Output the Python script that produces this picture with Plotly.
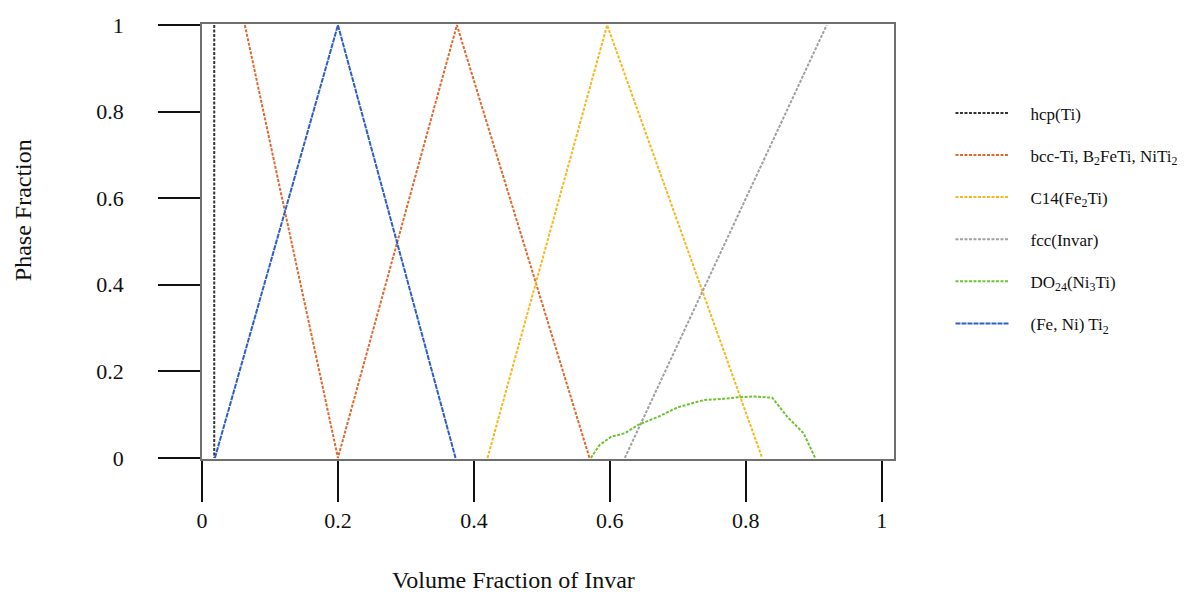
import plotly.graph_objects as go

# ---- data ----
hcp_x = [0.018, 0.018]
hcp_y = [1.0, 0.0]

bcc_x = [0.063, 0.200, 0.375, 0.570]
bcc_y = [1.0, 0.0, 1.0, 0.0]

c14_x = [0.420, 0.596, 0.824]
c14_y = [0.0, 1.0, 0.0]

fcc_x = [0.622, 0.919]
fcc_y = [0.0, 1.0]

do24_x = [0.572, 0.585, 0.602, 0.622, 0.641, 0.671, 0.700, 0.739, 0.763, 0.788,
          0.812, 0.839, 0.861, 0.885, 0.902]
do24_y = [0.000, 0.030, 0.049, 0.057, 0.076, 0.095, 0.117, 0.134, 0.136, 0.140,
          0.142, 0.139, 0.095, 0.057, 0.000]

feni_x = [0.019, 0.200, 0.373]
feni_y = [0.0, 1.0, 0.0]

x_ticks = [0, 0.2, 0.4, 0.6, 0.8, 1]
x_ticktext = ["0", "0.2", "0.4", "0.6", "0.8", "1"]
y_ticks = [0, 0.2, 0.4, 0.6, 0.8, 1]
y_ticktext = ["0", "0.2", "0.4", "0.6", "0.8", "1"]

x_title = "Volume Fraction of Invar"
y_title = "Phase Fraction"

series = [
    ("hcp(Ti)", hcp_x, hcp_y, "#333333", "3px,1.5px"),
    ("bcc-Ti, B<sub>2</sub>FeTi, NiTi<sub>2</sub>", bcc_x, bcc_y, "#E0682F", "3px,1.5px"),
    ("C14(Fe<sub>2</sub>Ti)", c14_x, c14_y, "#F7B81E", "3px,1.5px"),
    ("fcc(Invar)", fcc_x, fcc_y, "#A0A0A0", "3px,1.5px"),
    ("DO<sub>24</sub>(Ni<sub>3</sub>Ti)", do24_x, do24_y, "#6FC232", "3px,1.5px"),
    ("(Fe, Ni) Ti<sub>2</sub>", feni_x, feni_y, "#2F5FC4", "5px,1px"),
]

FONT = "Liberation Serif"
NB = "\u00a0" * 4

fig = go.Figure()
for i, (name, xs, ys, col, dash) in enumerate(series):
    fig.add_trace(go.Scatter(
        x=xs, y=ys, mode="lines", name=NB + name, legendgroup=f"g{i}",
        line=dict(color=col, width=2, dash=dash),
    ))

fig.update_layout(
    width=1194, height=594,
    margin=dict(l=194, r=308, t=16, b=143),
    paper_bgcolor="white", plot_bgcolor="white",
    font=dict(family=FONT, color="#111111"),
    showlegend=True,
    legend=dict(
        x=1.0816, y=0.836, xanchor="left", yanchor="top",
        font=dict(family=FONT, size=17, color="#111111"),
        itemwidth=53, tracegroupgap=17,
        bgcolor="rgba(0,0,0,0)",
    ),
    xaxis=dict(
        range=[0, 1.018], showgrid=False, zeroline=False, automargin=False,
        tickmode="array", tickvals=x_ticks, ticktext=x_ticktext,
        ticks="outside", ticklen=41, tickwidth=1.5, tickcolor="#111111",
        tickfont=dict(family=FONT, size=22, color="#111111"),
        showline=True, linecolor="#6f6f6f", linewidth=1.5, mirror=True,
    ),
    yaxis=dict(
        range=[-0.0025, 1.0025], showgrid=False, zeroline=False, automargin=False,
        tickmode="array", tickvals=y_ticks, ticktext=y_ticktext,
        ticks="outside", ticklen=42, tickwidth=1.5, tickcolor="#111111",
        tickfont=dict(family=FONT, size=22, color="#111111"),
        ticklabelstandoff=30,
        showline=True, linecolor="#6f6f6f", linewidth=1.5, mirror=True,
    ),
    annotations=[
        dict(text=x_title, xref="paper", yref="paper", x=0.45, y=0,
             xanchor="center", yanchor="middle", yshift=-121, showarrow=False,
             font=dict(family=FONT, size=24, color="#111111")),
        dict(text=y_title, xref="paper", yref="paper", x=0, y=0.572,
             xanchor="center", yanchor="middle", xshift=-179, showarrow=False,
             textangle=-90, font=dict(family=FONT, size=24, color="#111111")),
    ],
)

fig.write_html("out.html")
